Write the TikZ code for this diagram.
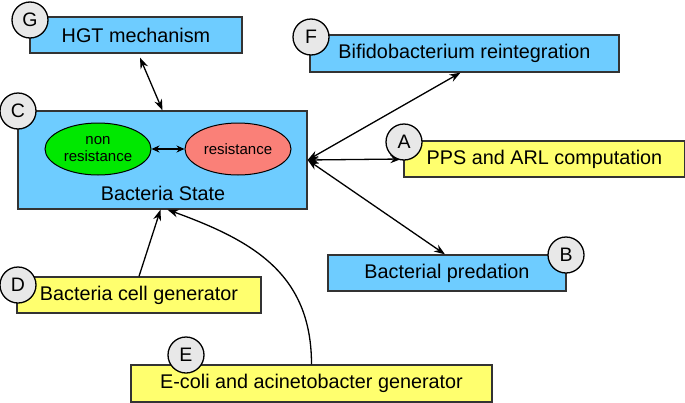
\documentclass[tikz,border=0pt]{standalone}
\usepackage{fontspec}
\setmainfont{Liberation Sans}
\usetikzlibrary{arrows.meta,shapes.geometric}

\definecolor{skyblue}{RGB}{110,204,255}
\definecolor{paleyellow}{RGB}{255,255,110}
\definecolor{leafgreen}{RGB}{0,232,0}
\definecolor{salmonred}{RGB}{250,128,120}

\begin{document}
\begin{tikzpicture}[x=1pt, y=-1pt,
  box/.style={draw=black!80, line width=1.3pt, inner sep=0pt, minimum height=36pt,
    font=\fontsize{19.8}{22}\selectfont},
  bluebox/.style={box, fill=skyblue},
  yellowbox/.style={box, fill=paleyellow},
  cellstate/.style={ellipse, draw=black, line width=1pt, minimum width=106pt,
    minimum height=52pt, inner sep=0pt, align=center, font=\fontsize{15}{17.5}\selectfont},
  tag/.style={circle, draw=black, fill=black!9, line width=1.3pt, minimum size=36pt,
    inner sep=0pt, font=\fontsize{19.5}{22}\selectfont},
  link/.style={line width=1.3pt, {Stealth[length=11pt,width=8pt]}-{Stealth[length=11pt,width=8pt]}},
  feed/.style={line width=1.3pt, -{Stealth[length=11pt,width=8pt]}}
]
\useasboundingbox (0,0) rectangle (685,402);

% Bacteria state box
\node[bluebox, minimum width=289pt, minimum height=98pt] (state) at (162.5,160) {};
\node[font=\fontsize{19.8}{22}\selectfont] (statename) at (163,193) {Bacteria State};
\node[cellstate, fill=leafgreen] (nonres) at (98,149) {non\\resistance};
\node[cellstate, fill=salmonred] (res) at (238,149) {resistance};
\draw[line width=1.3pt, {Stealth[length=8pt,width=7pt]}-{Stealth[length=8pt,width=7pt]}]
  (nonres) -- (res);

% Other modules
\node[bluebox, minimum width=212pt] (hgt) at (136,35) {HGT mechanism};
\node[bluebox, minimum width=309pt, minimum height=37pt] (bifido) at (464.5,53.5) {Bifidobacterium reintegration};
\node[yellowbox, minimum width=281pt] (pps) at (544.5,159) {PPS and ARL computation};
\node[bluebox, minimum width=238pt] (predation) at (447,273) {Bacterial predation};
\node[yellowbox, minimum width=244pt] (cellgen) at (139,295) {Bacteria cell generator};
\node[yellowbox, minimum width=361pt, minimum height=37pt] (ecoligen) at (311.5,383.5) {E-coli and acinetobacter generator};

% Connectors
\coordinate (hub) at (state.east);
\draw[link] ([shift={(4,4)}]hgt.south) -- (state.north);
\draw[link] (hub) -- ([xshift=-4]bifido.south);
\draw[link] (hub) -- ([xshift=-2]pps.west);
\draw[link] (hub) -- ([xshift=-2]predation.north);
\draw[feed] (cellgen.north) -- ([xshift=-2]state.south);
\draw[feed] (ecoligen.north) to[out=90, in=-20, looseness=1.1] ([xshift=5]state.south);

% Letter tags
\node[tag] (tagG) at (30,20) {G};
\node[tag] (tagF) at (311,37) {F};
\node[tag] (tagC) at (18,111) {C};
\node[tag] (tagA) at (404,142) {A};
\node[tag] (tagB) at (566,255) {B};
\node[tag] (tagD) at (18,285) {D};
\node[tag] (tagE) at (186,355) {E};
\end{tikzpicture}
\end{document}
